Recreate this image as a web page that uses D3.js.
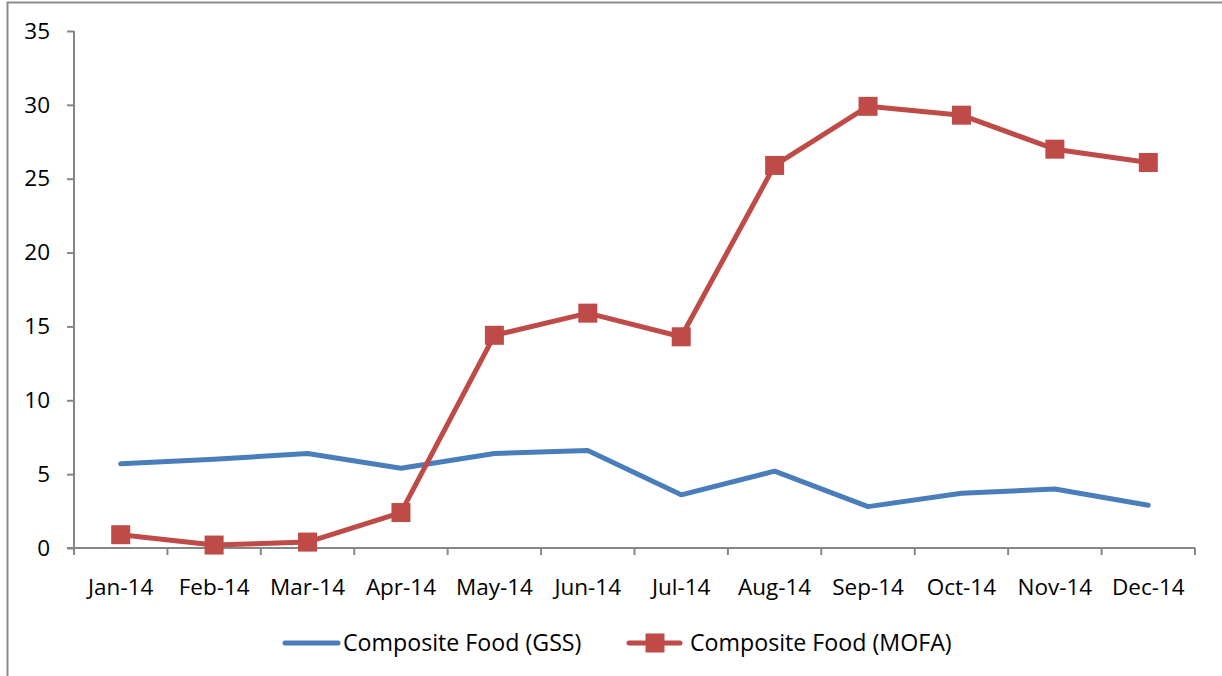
<!DOCTYPE html>
<html><head><meta charset="utf-8">
<script src="https://cdn.jsdelivr.net/npm/d3@7"></script>
<style>body{margin:0;background:#fff}svg{display:block}text{font-family:"Open Sans",sans-serif;fill:#000}</style>
</head><body><svg id="c" width="1222" height="676"></svg>
<script>
const categories = ["Jan-14","Feb-14","Mar-14","Apr-14","May-14","Jun-14","Jul-14","Aug-14","Sep-14","Oct-14","Nov-14","Dec-14"];
const gssValues  = [5.7, 6.0, 6.4, 5.4, 6.4, 6.6, 3.6, 5.2, 2.8, 3.7, 4.0, 2.9];
const mofaValues = [0.9, 0.2, 0.4, 2.4, 14.4, 15.9, 14.3, 25.9, 29.9, 29.3, 27.0, 26.1];
const yTicks = [0, 5, 10, 15, 20, 25, 30, 35];
const seriesNames = ["Composite Food (GSS)", "Composite Food (MOFA)"];
const colors = ["#4a7ebb", "#be4b48"];

const svg = d3.select("#c");
const fs = 22.5;
const lfs = 23.2;
svg.append("rect").attr("x",7.5).attr("y",2.5).attr("width",1400).attr("height",900)
  .attr("fill","none").attr("stroke","#8c8c8c").attr("stroke-width",2);

const x = d3.scaleBand().domain(categories).range([74,1195]);
const y = d3.scaleLinear().domain([0,35]).range([548,31]);

const ya = svg.append("g").attr("transform","translate(74,0)")
  .call(d3.axisLeft(y).tickValues(yTicks).tickSize(7).tickPadding(17).tickFormat(d3.format("d")));
const xa = svg.append("g").attr("transform","translate(0,548)")
  .call(d3.axisBottom(x).tickSize(0).tickPadding(39));
const bounds = categories.map(c=>x(c)).concat([x.range()[1]]);
svg.append("g").selectAll("line").data(bounds).join("line")
  .attr("x1",d=>d).attr("x2",d=>d).attr("y1",548).attr("y2",555)
  .attr("stroke","#868686").attr("stroke-width",2);
[ya,xa].forEach(a=>{
  a.selectAll(".domain").attr("stroke","#868686").attr("stroke-width",2);
  a.selectAll(".tick line").attr("stroke","#868686").attr("stroke-width",2);
  a.selectAll("text").style("font-size",fs+"px").attr("fill","#000");
});
ya.select(".domain").attr("d","M0,31V548");
xa.select(".domain").attr("d","M67,0H1195");
xa.selectAll(".tick text").attr("dy","0.35em");

const cx = c => x(c) + x.bandwidth()/2;
const line = d3.line().x((d,i)=>cx(categories[i])).y(d=>y(d));

svg.append("path").datum(gssValues).attr("d",line).attr("fill","none")
  .attr("stroke",colors[0]).attr("stroke-width",5).attr("stroke-linecap","round").attr("stroke-linejoin","round");
svg.append("path").datum(mofaValues).attr("d",line).attr("fill","none")
  .attr("stroke",colors[1]).attr("stroke-width",5).attr("stroke-linejoin","round");
const ms = 19;
svg.append("g").selectAll("rect").data(mofaValues).join("rect")
  .attr("x",(d,i)=>cx(categories[i])-ms/2).attr("y",d=>y(d)-ms/2)
  .attr("width",ms).attr("height",ms).attr("fill",colors[1]);

const ly = 643;
svg.append("line").attr("x1",285).attr("x2",338).attr("y1",ly).attr("y2",ly)
  .attr("stroke",colors[0]).attr("stroke-width",5).attr("stroke-linecap","round");
svg.append("text").attr("x",343).attr("y",ly).attr("dy","0.35em").style("font-size",lfs+"px").text(seriesNames[0]);
svg.append("line").attr("x1",629).attr("x2",680).attr("y1",ly).attr("y2",ly)
  .attr("stroke",colors[1]).attr("stroke-width",5).attr("stroke-linecap","round");
svg.append("rect").attr("x",655-ms/2).attr("y",ly-ms/2).attr("width",ms).attr("height",ms).attr("fill",colors[1]);
svg.append("text").attr("x",690).attr("y",ly).attr("dy","0.35em").style("font-size",lfs+"px").text(seriesNames[1]);
</script></body></html>
